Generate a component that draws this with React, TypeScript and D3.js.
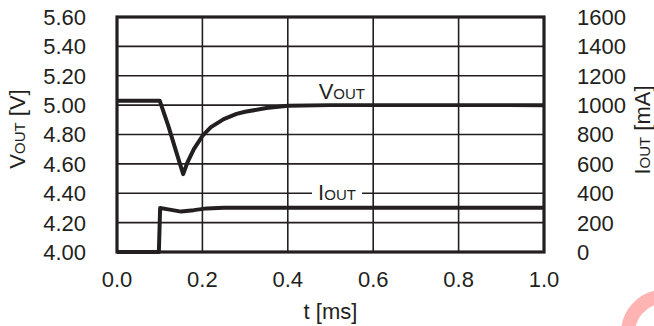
import React from "react";
import * as d3 from "d3";

const voutT = [0, 0.1, 0.12, 0.14, 0.155, 0.165, 0.18, 0.2, 0.22, 0.25, 0.28, 0.3, 0.35, 0.4, 0.5, 1.0];
const voutV = [5.03, 5.03, 4.86, 4.67, 4.53, 4.61, 4.7, 4.79, 4.85, 4.905, 4.94, 4.955, 4.98, 4.995, 5.0, 5.0];

const ioutT = [0, 0.098, 0.101, 0.12, 0.15, 0.18, 0.21, 0.25, 1.0];
const ioutV = [0, 0, 300, 290, 275, 285, 297, 302, 302];

const xTicks = [0, 0.2, 0.4, 0.6, 0.8, 1.0];
const yLeftTicks = [4.0, 4.2, 4.4, 4.6, 4.8, 5.0, 5.2, 5.4, 5.6];
const yRightTicks = [0, 200, 400, 600, 800, 1000, 1200, 1400, 1600];

const W = 654, H = 326;
const L = 117, R = 544, T = 17, B = 252;
const INK = "#231f20";
const FONT = "'Liberation Sans', Arial, Helvetica, sans-serif";
const FS = 22;

export default function App() {
  const x = d3.scaleLinear().domain([0, 1]).range([L, R]);
  const yL = d3.scaleLinear().domain([4.0, 5.6]).range([B, T]);
  const yR = d3.scaleLinear().domain([0, 1600]).range([B, T]);

  const voutLine = d3.line<number>().x((_, i) => x(voutT[i])).y((d) => yL(d)).curve(d3.curveLinear);
  const ioutLine = d3.line<number>().x((_, i) => x(ioutT[i])).y((d) => yR(d)).curve(d3.curveLinear);

  return (
    <svg width={W} height={H} style={{ position: "absolute", left: 0, top: 0, background: "#fff" }} fontFamily={FONT}>
      <rect x={0} y={0} width={W} height={H} fill="#fff" />
      {/* grid */}
      {xTicks.slice(1, -1).map((t) => (
        <line key={"gx" + t} x1={x(t)} x2={x(t)} y1={T} y2={B} stroke={INK} strokeWidth={1.6} />
      ))}
      {yLeftTicks.slice(1, -1).map((t) => (
        <line key={"gy" + t} x1={L} x2={R} y1={yL(t)} y2={yL(t)} stroke={INK} strokeWidth={1.6} />
      ))}
      {/* curves */}
      <path d={voutLine(voutV) || ""} fill="none" stroke={INK} strokeWidth={4} strokeLinejoin="round" />
      <path d={ioutLine(ioutV) || ""} fill="none" stroke={INK} strokeWidth={4} strokeLinejoin="round" />
      {/* frame */}
      <rect x={L} y={T} width={R - L} height={B - T} fill="none" stroke={INK} strokeWidth={3.2} />

      {/* series labels */}
      <text x={365} y={99} textAnchor="end" fontSize={FS} fill={INK}>
        V<tspan fontSize={15}>OUT</tspan>
      </text>
      <rect x={312} y={182} width={50} height={22} fill="#fff" />
      <text x={337} y={200} textAnchor="middle" fontSize={FS} fill={INK}>
        I<tspan fontSize={15}>OUT</tspan>
      </text>

      {/* left ticks */}
      {yLeftTicks.map((t) => (
        <text key={"yl" + t} x={86} y={yL(t)} dy="0.36em" textAnchor="end" fontSize={FS} fill={INK}>
          {t.toFixed(2)}
        </text>
      ))}
      {/* right ticks */}
      {yRightTicks.map((t) => (
        <text key={"yr" + t} x={577} y={yR(t)} dy="0.36em" textAnchor="start" fontSize={FS} fill={INK}>
          {t}
        </text>
      ))}
      {/* bottom ticks */}
      {xTicks.map((t) => (
        <text key={"xt" + t} x={x(t)} y={279} dy="0.36em" textAnchor="middle" fontSize={FS} fill={INK}>
          {t.toFixed(1)}
        </text>
      ))}
      <text x={(L + R) / 2} y={319} textAnchor="middle" fontSize={FS} fill={INK}>
        t [ms]
      </text>
      {/* axis titles */}
      <text transform={`translate(25,129) rotate(-90)`} textAnchor="middle" fontSize={FS} fill={INK}>
        V<tspan fontSize={15}>OUT</tspan> [V]
      </text>
      <text transform={`translate(650,130) rotate(-90)`} textAnchor="middle" fontSize={FS} fill={INK}>
        I<tspan fontSize={15}>OUT</tspan> [mA]
      </text>

      {/* watermark */}
      <path d="M 628 330 A 37 37 0 0 1 658 297" fill="none" stroke="#ffb3b3" strokeWidth={14} />
    </svg>
  );
}
